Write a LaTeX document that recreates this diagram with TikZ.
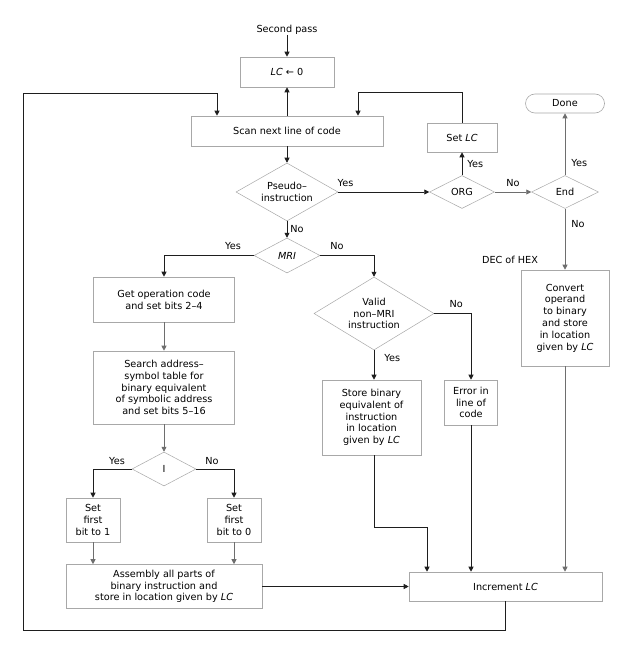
\documentclass[tikz,border=0pt]{standalone}
\usepackage{fontspec}
\setmainfont{DejaVu Sans}
\usetikzlibrary{arrows.meta,shapes.geometric}
\definecolor{bord}{HTML}{A8A8A8}
\definecolor{ln}{HTML}{1E1E1E}
\definecolor{gln}{HTML}{6E6E6E}
\definecolor{txt}{HTML}{000000}
\tikzset{
  box/.style={draw=bord, line width=0.6pt, fill=white, align=center, inner sep=1pt, text=txt},
  dia/.style={diamond, draw=bord, line width=0.5pt, inner sep=0pt, text=txt},
  lbl/.style={align=center, text=txt, inner sep=0pt},
  arr/.style={draw=ln, line width=0.8pt, -{Triangle[length=5pt,width=5pt]}},
  garr/.style={draw=gln, line width=0.8pt, -{Triangle[length=5pt,width=5pt]}},
  ln/.style={draw=ln, line width=0.8pt},
  tag/.style={text=txt, inner sep=0pt},
}
\newcommand{\LCx}{\textit{LC}}
\begin{document}
\begin{tikzpicture}[x=1pt,y=-1pt,font=\fontsize{9.7}{11.8}\selectfont]
\useasboundingbox[fill=white] (0,0) rectangle (636,655);

% nodes
\node[tag] (start) at (287,30) {Second pass};
\node[box, minimum width=94, minimum height=30] (lc) at (287,72) {\LCx\ ← 0};
\node[box, minimum width=192, minimum height=30] (scan) at (287,131) {Scan next line of code};
\node[box, minimum width=70, minimum height=29] (setlc) at (462,137.5) {Set \LCx};
\node[box, rounded corners=9.5pt, minimum width=79, minimum height=19] (done) at (565,103.5) {Done};

\node[dia, minimum width=102, minimum height=58, label={[lbl]center:{Pseudo–\\instruction}}] (pseudo) at (287,192) {};
\node[dia, minimum width=65, minimum height=33, label={[lbl]center:ORG}] (org) at (462,192) {};
\node[dia, minimum width=67, minimum height=33, label={[lbl]center:End}] (end) at (565,192) {};
\node[dia, minimum width=66, minimum height=35, label={[lbl]center:\textit{MRI}}] (mri) at (287,255.5) {};
\node[dia, minimum width=120, minimum height=73, label={[lbl]center:{Valid\\non–MRI\\instruction}}] (valid) at (374,313.5) {};
\node[dia, minimum width=64, minimum height=34, label={[lbl]center:I}] (idia) at (164,469) {};

\node[box, minimum width=141, minimum height=45] (getop) at (164,299.5) {Get operation code\\and set bits 2–4};
\node[box, minimum width=141, minimum height=73] (search) at (164,387.5) {Search address–\\symbol table for\\binary equivalent\\of symbolic address\\and set bits 5–16};
\node[box, minimum width=54, minimum height=44] (set1) at (93,520) {Set\\first\\bit to 1};
\node[box, minimum width=54, minimum height=44] (set0) at (234,520) {Set\\first\\bit to 0};
\node[box, minimum width=196, minimum height=44] (asm) at (164,586.5) {Assembly all parts of\\binary instruction and\\store in location given by \LCx};
\node[box, minimum width=99, minimum height=75] (store) at (371.5,417.5) {Store binary\\equivalent of\\instruction\\in location\\given by \LCx};
\node[box, minimum width=53, minimum height=45] (error) at (471,402.5) {Error in\\line of\\code};
\node[box, minimum width=88, minimum height=96] (convert) at (565,318) {Convert\\operand\\to binary\\and store\\in location\\given by \LCx};
\node[box, minimum width=193, minimum height=29] (incr) at (505.5,586.5) {Increment \LCx};

\node[tag] (dec) at (510,260) {DEC of HEX};

\coordinate (lb) at (23,630);
\coordinate (lt) at (23,93);

% connectors
\draw[arr] (start.south) -- (lc.north);
\draw[arr] (scan.north) -- (lc.south);
\draw[arr] (incr.south) |- (lb) -- (lt) -| ([xshift=-70]scan.north);
\draw[arr] (setlc.north) -- ++(0,-30) -| ([xshift=71]scan.north);
\draw[arr] (scan.south) -- (pseudo.north);
\draw[arr] (pseudo.east) -- node[tag, pos=0.08, above=5pt] {Yes} (org.west);
\draw[arr] (org.north) -- node[tag, right=5pt] {Yes} (setlc.south);
\draw[garr] (org.east) -- node[tag, above=5pt] {No} (end.west);
\draw[garr] (end.north) -- node[tag, pos=0.2, right=6pt] {Yes} (done.south);
\draw[garr] (end.south) -- node[tag, pos=0.25, right=6pt] {No} (convert.north);
\draw[arr] (pseudo.south) -- node[tag, right=3pt] {No} (mri.north);
\draw[arr] (mri.west) -| (getop.north);
\node[tag] (myes) at (233,246) {Yes};
\draw[arr] (mri.east) -| (valid.north);
\node[tag] (mno) at (337,246) {No};
\draw[garr] (getop.south) -- (search.north);
\draw[garr] (search.south) -- (idia.north);
\draw[arr] (idia.west) -| (set1.north);
\node[tag] (iyes) at (117,461) {Yes};
\draw[arr] (idia.east) -| (set0.north);
\node[tag] (ino) at (212,461) {No};
\draw[garr] (set1.south) -- (set1.south |- asm.north);
\draw[garr] (set0.south) -- (set0.south |- asm.north);
\draw[arr] (asm.east) -- (incr.west);
\draw[arr] (valid.south) -- node[tag, right=10pt, pos=0.25] {Yes} (valid.south |- store.north);
\draw[arr] (valid.east) -| node[tag, pos=0.3, above=5pt] {No} (error.north);
\draw[arr] (valid.south |- store.south) -- ++(0,72) -| ([xshift=-78.5]incr.north);
\draw[arr] (error.south) -- (error.south |- incr.north);
\draw[garr] (convert.south) -- (convert.south |- incr.north);
\end{tikzpicture}
\end{document}
